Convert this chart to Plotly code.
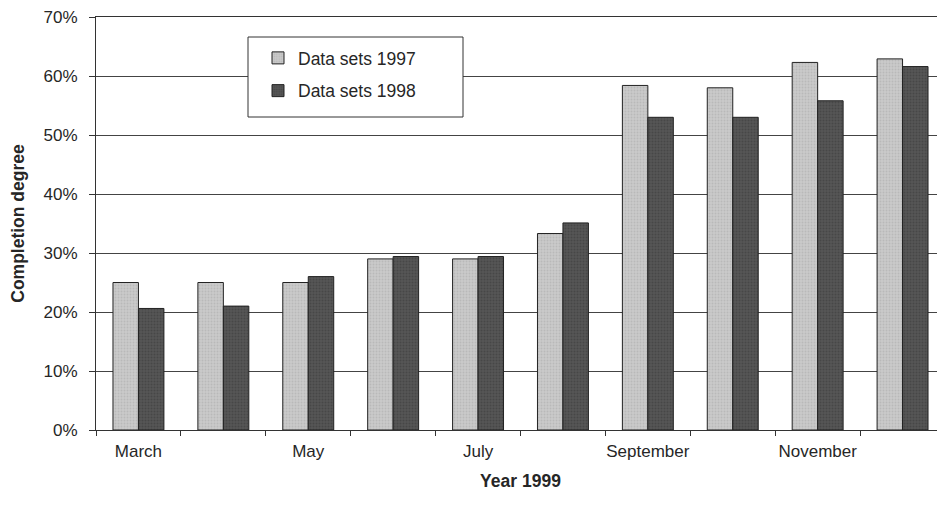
import plotly.graph_objects as go

months = ["March", "April", "May", "June", "July", "August",
          "September", "October", "November", "December"]
shown_labels = ["March", "", "May", "", "July", "", "September", "", "November", ""]
sets_1997 = [25.0, 25.0, 25.0, 29.0, 29.0, 33.3, 58.4, 58.0, 62.3, 62.9]
sets_1998 = [20.6, 21.0, 26.0, 29.4, 29.4, 35.1, 53.0, 53.0, 55.8, 61.6]
y_ticks = [0, 10, 20, 30, 40, 50, 60, 70]
y_tick_labels = [f"{v}%" for v in y_ticks]

font = "Liberation Sans, Arial, sans-serif"
txt = "#262626"

fig = go.Figure()
fig.add_trace(go.Bar(
    x=months, y=sets_1997, name="Data sets 1997", legendgroup="a",
    marker=dict(color="#c6c6c6", line=dict(color="#222222", width=1),
                pattern=dict(shape=".", fgcolor="#a8a8a8", bgcolor="#cacaca",
                             size=3, solidity=0.35)),
))
fig.add_trace(go.Bar(
    x=months, y=sets_1998, name="Data sets 1998", legendgroup="b",
    marker=dict(color="#4c4c4c", line=dict(color="#222222", width=1),
                pattern=dict(shape=".", fgcolor="#3a3a3a", bgcolor="#555555",
                             size=3, solidity=0.35)),
))

# legend frame
fig.add_shape(type="rect", xref="paper", yref="paper",
              x0=(248 - 96) / 849, x1=(463 - 96) / 849,
              y0=(430 - 117) / 413, y1=(430 - 37) / 413,
              line=dict(color="#333333", width=1), fillcolor="white", layer="above")

fig.update_layout(
    width=945, height=515,
    margin=dict(l=88, r=8, t=9, b=93),
    paper_bgcolor="white", plot_bgcolor="white",
    barmode="group", bargap=0.4, bargroupgap=0.0,
    font=dict(family=font, size=17, color=txt),
    showlegend=True,
    legend=dict(
        x=(258 - 96) / 849, y=(430 - 40) / 413, xanchor="left", yanchor="top",
        bgcolor="rgba(0,0,0,0)", borderwidth=0,
        traceorder="grouped", tracegroupgap=7, itemwidth=30,
        font=dict(family=font, size=17.5, color=txt),
    ),
    xaxis=dict(
        type="category", tickmode="array", tickvals=months, ticktext=shown_labels,
        tickson="boundaries", ticks="outside", ticklen=5, tickcolor="#333333",
        tickangle=0, ticklabelstandoff=6, ticklabeloverflow="allow",
        showline=True, linecolor="#333333", linewidth=1, mirror=True,
        showgrid=False, range=[-0.5, 9.5], automargin=False,
        tickfont=dict(family=font, size=17, color=txt),
        title=dict(text="<b>Year 1999</b>", standoff=14,
                   font=dict(family=font, size=17.5, color=txt)),
    ),
    yaxis=dict(
        range=[0, 70], tickmode="array", tickvals=y_ticks, ticktext=y_tick_labels,
        ticks="outside", ticklen=6, tickcolor="#333333",
        ticklabelstandoff=8, ticklabeloverflow="allow",
        showline=True, linecolor="#333333", linewidth=1,
        showgrid=True, gridcolor="#444444", gridwidth=1,
        zeroline=False, automargin=False,
        tickfont=dict(family=font, size=17, color=txt),
        title=dict(text="<b>Completion degree</b>", standoff=14,
                   font=dict(family=font, size=17.5, color=txt)),
    ),
)

fig.write_html("out.html")
